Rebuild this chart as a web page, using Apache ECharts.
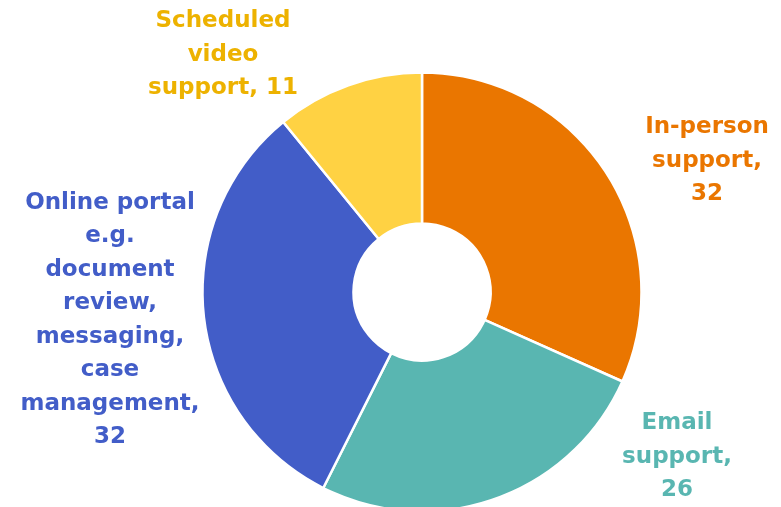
<!DOCTYPE html>
<html>
<head>
<meta charset="utf-8">
<script src="https://cdn.jsdelivr.net/npm/echarts@6/dist/echarts.min.js"></script>
<style>
  html, body { margin: 0; padding: 0; background: #fff; }
  #chart { width: 781px; height: 507px; }
</style>
</head>
<body>
<div id="chart"></div>
<script>
const categories = [
  "In-person support",
  "Email support",
  "Online portal e.g. document review, messaging, case management",
  "Scheduled video support",
];
const values = [32, 26, 32, 11];
const labelTexts = [
  "In-person\nsupport,\n32",
  "Email\nsupport,\n26",
  "Online portal\ne.g.\ndocument\nreview,\nmessaging,\ncase\nmanagement,\n32",
  "Scheduled\nvideo\nsupport, 11",
];

const sliceColors = ["#EA7600", "#59B6B1", "#425DC8", "#FFD243"];
const labelColors = ["#EA7600", "#59B6B1", "#425DC8", "#EDB200"];
// label block centres (px)
const labelPos = [
  [707, 161],
  [677, 457],
  [110, 320],
  [223, 55],
];

const chart = echarts.init(document.getElementById("chart"));

const seriesData = categories.map((name, i) => {
  return {
    name: name,
    value: values[i],
    itemStyle: { color: sliceColors[i] },
    label: { color: labelColors[i] },
  };
});

const option = {
  backgroundColor: "#ffffff",
  animation: false,
  series: [
    {
      type: "pie",
      center: [422, 292],
      radius: [68.5, 219.5],
      startAngle: 90,
      clockwise: true,
      itemStyle: {
        borderColor: "#ffffff",
        borderWidth: 2.5,
      },
      label: {
        show: true,
        position: "outside",
        formatter: (p) => labelTexts[p.dataIndex],
        fontFamily: "DejaVu Sans",
        fontWeight: "bold",
        fontSize: 23,
        lineHeight: 33.5,
        align: "center",
        overflow: "none",
        width: 300,
      },
      labelLine: { show: false },
      labelLayout: (params) => {
        const pos = labelPos[params.dataIndex];
        return {
          x: pos[0],
          y: pos[1],
          align: "center",
          verticalAlign: "middle",
          hideOverlap: false,
        };
      },
      emphasis: { disabled: true },
      data: seriesData,
    },
  ],
};

chart.setOption(option);
</script>
</body>
</html>
